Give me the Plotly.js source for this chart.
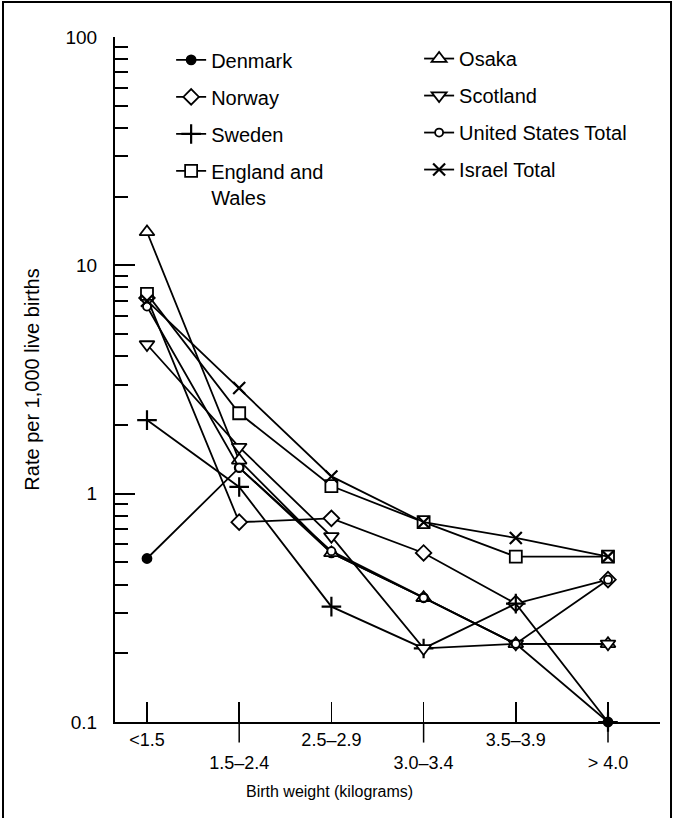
<!DOCTYPE html>
<html>
<head>
<meta charset="utf-8">
<script src="https://cdn.plot.ly/plotly-3.0.1.min.js"></script>
<style>
  html, body { margin: 0; padding: 0; background: #fff; }
  #chart { width: 675px; height: 818px; }
</style>
</head>
<body>
<div id="chart"></div>
<script>
// Birth-weight categories (x axis)
const categories = ["<1.5", "1.5-2.4", "2.5-2.9", "3.0-3.4", "3.5-3.9", ">4.0"];
const tickLabels = ["<1.5", "1.5\u20132.4", "2.5\u20132.9", "3.0\u20133.4", "3.5\u20133.9", "> 4.0"];

// Rates per 1,000 live births
const denmark  = [0.52, 1.30, 0.55, 0.35, 0.22, 0.10];
const norway   = [7.2, 0.75, 0.78, 0.55, 0.33, 0.42];
const sweden   = [2.1, 1.07, 0.32, 0.21, 0.33, 0.10];
const england  = [7.5, 2.25, 1.08, 0.75, 0.53, 0.53];
const osaka    = [14.0, 1.40, 0.55, 0.35, 0.22, 0.22];
const scotland = [4.5, 1.60, 0.65, 0.21, 0.22, 0.22];
const usTotal  = [6.6, 1.30, 0.56, 0.35, 0.22, 0.42];
const israel   = [7.0, 2.90, 1.19, 0.75, 0.64, 0.53];

const FONT = "Liberation Sans, Arial, Helvetica, sans-serif";

function series(name, y, symbol, size, legend, filled) {
  return {
    type: "scatter", mode: "lines+markers", name: name, x: categories, y: y,
    legend: legend, legendgroup: name,
    line: { color: "#000", width: 1.8 },
    marker: { symbol: symbol, size: size, color: filled ? "#000" : "#fff",
              line: { color: "#000", width: 1.8 } },
    cliponaxis: false
  };
}

const traces = [
  series("Denmark", denmark, "circle", 9, "legend", true),
  series("Norway", norway, "diamond", 12, "legend", false),
  series("Sweden", sweden, "cross-thin", 14, "legend", false),
  series("England and<br>Wales", england, "square", 12, "legend", false),
  series("Osaka", osaka, "triangle-up", 13, "legend2", false),
  series("Scotland", scotland, "triangle-down", 13, "legend2", false),
  series("United States Total", usTotal, "circle", 8, "legend2", false),
  series("Israel Total", israel, "x-thin", 12, "legend2", false)
];
// thin cross/x symbols need their line width
traces[2].marker.line.width = 2.2;
traces[7].marker.line.width = 2.2;

// staggered tick labels: every second label on a lower row
const staggered = tickLabels.map((t, i) => (i % 2 === 1 ? "&nbsp;<br>" + t : t));

const minorVals = [];
[0.1, 1, 10].forEach(d => { for (let k = 2; k <= 9; k++) minorVals.push(+(k * d).toFixed(2)); });

const legendStyle = {
  font: { family: FONT, size: 20, color: "#000" },
  bgcolor: "rgba(0,0,0,0)", borderwidth: 0,
  orientation: "v", yanchor: "top", xanchor: "left",
  tracegroupgap: 8, valign: "top", itemwidth: 30
};

// lower-row tick leaders extending below the axis
const shapes = categories.filter((c, i) => i % 2 === 1).map(c => ({
  type: "line", xref: "x", yref: "paper", x0: c, x1: c, y0: 0, y1: -0.03,
  line: { color: "#000", width: 1.5 }
}));
// page frame
shapes.push({ type: "rect", xref: "paper", yref: "paper",
  x0: -0.2055, x1: 1.0202, y0: -0.16, y1: 1.051,
  line: { color: "#000", width: 2 } });

const layout = {
  width: 675, height: 818,
  margin: { l: 115, r: 15, t: 37, b: 96 },
  paper_bgcolor: "#fff", plot_bgcolor: "#fff",
  font: { family: FONT, color: "#000", size: 15 },
  showlegend: true,
  legend: Object.assign({}, legendStyle, { x: 0.103, y: 0.995 }),
  legend2: Object.assign({}, legendStyle, { x: 0.558, y: 0.997 }),
  xaxis: {
    type: "category", categoryorder: "array", categoryarray: categories,
    range: [-0.347, 5.564],
    tickmode: "array", tickvals: categories, ticktext: staggered,
    ticks: "inside", ticklen: 20, tickwidth: 1.5, tickcolor: "#000",
    showline: true, linewidth: 2, linecolor: "#000",
    showgrid: false, zeroline: false,
    tickfont: { family: FONT, size: 18, color: "#000" }
  },
  yaxis: {
    type: "log", range: [-1, 2],
    tickmode: "array", tickvals: [0.1, 1, 10, 100], ticktext: ["0.1", "1", "10", "100"],
    ticks: "inside", ticklen: 20, tickwidth: 2, tickcolor: "#000",
    ticklabelstandoff: 12,
    minor: { tickmode: "array", tickvals: minorVals, ticks: "inside", ticklen: 13, tickwidth: 2, tickcolor: "#000", showgrid: false },
    showline: true, linewidth: 2, linecolor: "#000",
    showgrid: false, zeroline: false,
    tickfont: { family: FONT, size: 19, color: "#000" },
    title: { text: "Rate per 1,000 live births", font: { family: FONT, size: 20, color: "#000" }, standoff: 20 }
  },
  annotations: [{
    text: "Birth weight (kilograms)", xref: "paper", yref: "paper",
    x: 0.394, y: -0.102, xanchor: "center", yanchor: "middle", showarrow: false,
    font: { family: FONT, size: 16, color: "#000" }
  }],
  shapes: shapes
};

Plotly.newPlot("chart", traces, layout, { displayModeBar: false, staticPlot: true });
</script>
</body>
</html>
